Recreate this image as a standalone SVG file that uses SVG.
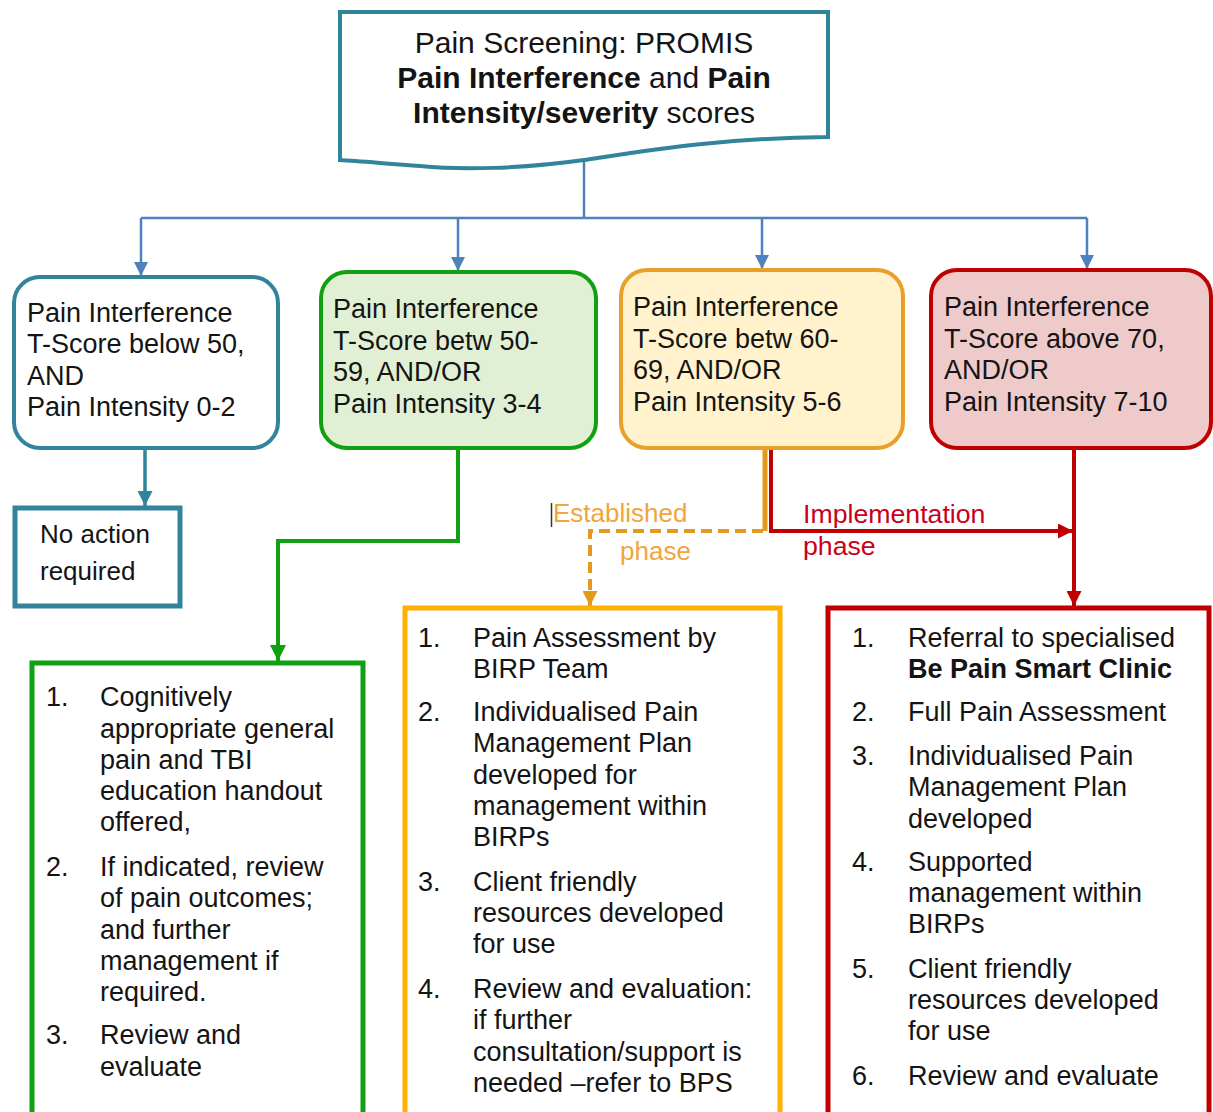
<svg xmlns="http://www.w3.org/2000/svg" width="1213" height="1112" viewBox="0 0 1213 1112">
<style>
text{font-family:"Liberation Sans",Arial,sans-serif;fill:#141414;}
.t{font-size:27px;}
.h{font-size:30px;}
.b{font-weight:bold;}
.lbl{font-size:26px;}
.blue{stroke:#4F81BD;stroke-width:2.5;fill:none;}
</style>
<defs>
<marker id="aBlue" viewBox="0 0 10 10" refX="10" refY="5" markerUnits="userSpaceOnUse" markerWidth="14" markerHeight="14" orient="auto"><path d="M0,0 L10,5 L0,10 z" fill="#4F81BD"/></marker>
<marker id="aTeal" viewBox="0 0 10 10" refX="10" refY="5" markerUnits="userSpaceOnUse" markerWidth="15" markerHeight="15" orient="auto"><path d="M0,0 L10,5 L0,10 z" fill="#31849B"/></marker>
<marker id="aGreen" viewBox="0 0 10 10" refX="10" refY="5" markerUnits="userSpaceOnUse" markerWidth="16" markerHeight="16" orient="auto"><path d="M0,0 L10,5 L0,10 z" fill="#11A011"/></marker>
<marker id="aOrange" viewBox="0 0 10 10" refX="10" refY="5" markerUnits="userSpaceOnUse" markerWidth="15" markerHeight="15" orient="auto"><path d="M0,0 L10,5 L0,10 z" fill="#E39A1A"/></marker>
<marker id="aRed" viewBox="0 0 10 10" refX="10" refY="5" markerUnits="userSpaceOnUse" markerWidth="15" markerHeight="15" orient="auto"><path d="M0,0 L10,5 L0,10 z" fill="#C00000"/></marker>
</defs>
<rect width="1213" height="1112" fill="#FFFFFF"/>

<g id="connectors">
<path class="blue" d="M584,160 L584,218"/>
<path class="blue" d="M141,218 L1087,218"/>
<path class="blue" d="M141,218 L141,276" marker-end="url(#aBlue)"/>
<path class="blue" d="M458,218 L458,271" marker-end="url(#aBlue)"/>
<path class="blue" d="M762,218 L762,269" marker-end="url(#aBlue)"/>
<path class="blue" d="M1087,218 L1087,269" marker-end="url(#aBlue)"/>
<path d="M145,448 L145,506" stroke="#31849B" stroke-width="3.5" fill="none" marker-end="url(#aTeal)"/>
<path d="M458,448 L458,541 L278,541 L278,661" stroke="#11A011" stroke-width="4" fill="none" marker-end="url(#aGreen)"/>
<path d="M765,448 L765,531" stroke="#E39A1A" stroke-width="5" fill="none"/>
<path d="M763,531 L590,531 L590,606" stroke="#E39A1A" stroke-width="4" stroke-dasharray="11 6" fill="none" marker-end="url(#aOrange)"/>
<path d="M771,448 L771,531 L1073,531" stroke="#C00000" stroke-width="4" fill="none" marker-end="url(#aRed)"/>
<path d="M1074,448 L1074,606" stroke="#C00000" stroke-width="4" fill="none" marker-end="url(#aRed)"/>
<line x1="551.5" y1="503" x2="551.5" y2="527" stroke="#333" stroke-width="1.5"/>
<text class="lbl" x="553" y="522" style="fill:#F2A53A">Established</text>
<text class="lbl" x="620" y="560" style="fill:#F2A53A">phase</text>
<text class="lbl" x="803" y="523" style="fill:#C8001A;font-size:26.7px">Implementation</text>
<text class="lbl" x="803" y="555" style="fill:#C8001A;font-size:26.7px">phase</text>
</g>

<g id="screening">
<path d="M340,12 L828,12 L828,137 C720,138 650,150 584,160 C520,169 460,170 420,166 C390,164 360,161 340,160 Z" fill="#FFFFFF" stroke="#31849B" stroke-width="4"/>
<text class="h" x="584" y="53" text-anchor="middle">Pain Screening: PROMIS</text>
<text class="h" x="584" y="88" text-anchor="middle"><tspan class="b">Pain Interference</tspan> and <tspan class="b">Pain</tspan></text>
<text class="h" x="584" y="123" text-anchor="middle"><tspan class="b">Intensity/severity</tspan> scores</text>
</g>

<g id="box-below50">
<rect x="14" y="277" width="264" height="171" rx="26" fill="#FFFFFF" stroke="#31849B" stroke-width="4"/>
<text class="t" x="27" y="322">Pain Interference</text>
<text class="t" x="27" y="353">T-Score below 50,</text>
<text class="t" x="27" y="385">AND</text>
<text class="t" x="27" y="416">Pain Intensity 0-2</text>
</g>

<g id="box-50-59">
<rect x="321" y="272" width="275" height="176" rx="26" fill="#E1F0D4" stroke="#11A011" stroke-width="4"/>
<text class="t" x="333" y="318">Pain Interference</text>
<text class="t" x="333" y="350">T-Score betw 50-</text>
<text class="t" x="333" y="381">59, AND/OR</text>
<text class="t" x="333" y="413">Pain Intensity 3-4</text>
</g>

<g id="box-60-69">
<rect x="621" y="270" width="282" height="178" rx="26" fill="#FFF2CC" stroke="#E8A02A" stroke-width="4"/>
<text class="t" x="633" y="316">Pain Interference</text>
<text class="t" x="633" y="348">T-Score betw 60-</text>
<text class="t" x="633" y="379">69, AND/OR</text>
<text class="t" x="633" y="411">Pain Intensity 5-6</text>
</g>

<g id="box-above70">
<rect x="931" y="270" width="280" height="178" rx="26" fill="#EECACA" stroke="#C00000" stroke-width="4"/>
<text class="t" x="944" y="316">Pain Interference</text>
<text class="t" x="944" y="348">T-Score above 70,</text>
<text class="t" x="944" y="379">AND/OR</text>
<text class="t" x="944" y="411">Pain Intensity 7-10</text>
</g>

<g id="no-action">
<rect x="15" y="508" width="165" height="98" fill="#FFFFFF" stroke="#31849B" stroke-width="5"/>
<text class="lbl" x="40" y="543">No action</text>
<text class="lbl" x="40" y="580">required</text>
</g>

<g id="list-green">
<rect x="32" y="663" width="331" height="470" fill="#FFFFFF" stroke="#11A011" stroke-width="5"/>
<text class="t" x="46" y="706">1.</text>
<text class="t" x="100" y="706">Cognitively</text>
<text class="t" x="100" y="738">appropriate general</text>
<text class="t" x="100" y="769">pain and TBI</text>
<text class="t" x="100" y="800">education handout</text>
<text class="t" x="100" y="831">offered,</text>
<text class="t" x="46" y="876">2.</text>
<text class="t" x="100" y="876">If indicated, review</text>
<text class="t" x="100" y="907">of pain outcomes;</text>
<text class="t" x="100" y="939">and further</text>
<text class="t" x="100" y="970">management if</text>
<text class="t" x="100" y="1001">required.</text>
<text class="t" x="46" y="1044">3.</text>
<text class="t" x="100" y="1044">Review and</text>
<text class="t" x="100" y="1076">evaluate</text>
</g>

<g id="list-orange">
<rect x="405" y="608" width="375" height="525" fill="#FFFFFF" stroke="#FFB000" stroke-width="5"/>
<text class="t" x="418" y="647">1.</text>
<text class="t" x="473" y="647">Pain Assessment by</text>
<text class="t" x="473" y="678">BIRP Team</text>
<text class="t" x="418" y="721">2.</text>
<text class="t" x="473" y="721">Individualised Pain</text>
<text class="t" x="473" y="752">Management Plan</text>
<text class="t" x="473" y="784">developed for</text>
<text class="t" x="473" y="815">management within</text>
<text class="t" x="473" y="846">BIRPs</text>
<text class="t" x="418" y="891">3.</text>
<text class="t" x="473" y="891">Client friendly</text>
<text class="t" x="473" y="922">resources developed</text>
<text class="t" x="473" y="953">for use</text>
<text class="t" x="418" y="998">4.</text>
<text class="t" x="473" y="998">Review and evaluation:</text>
<text class="t" x="473" y="1029">if further</text>
<text class="t" x="473" y="1061">consultation/support is</text>
<text class="t" x="473" y="1092">needed –refer to BPS</text>
</g>

<g id="list-red">
<rect x="828" y="608" width="381" height="525" fill="#FFFFFF" stroke="#C00000" stroke-width="5"/>
<text class="t" x="852" y="647">1.</text>
<text class="t" x="908" y="647">Referral to specialised</text>
<text class="t b" x="908" y="678">Be Pain Smart Clinic</text>
<text class="t" x="852" y="721">2.</text>
<text class="t" x="908" y="721">Full Pain Assessment</text>
<text class="t" x="852" y="765">3.</text>
<text class="t" x="908" y="765">Individualised Pain</text>
<text class="t" x="908" y="796">Management Plan</text>
<text class="t" x="908" y="828">developed</text>
<text class="t" x="852" y="871">4.</text>
<text class="t" x="908" y="871">Supported</text>
<text class="t" x="908" y="902">management within</text>
<text class="t" x="908" y="933">BIRPs</text>
<text class="t" x="852" y="978">5.</text>
<text class="t" x="908" y="978">Client friendly</text>
<text class="t" x="908" y="1009">resources developed</text>
<text class="t" x="908" y="1040">for use</text>
<text class="t" x="852" y="1085">6.</text>
<text class="t" x="908" y="1085">Review and evaluate</text>
</g>
</svg>
